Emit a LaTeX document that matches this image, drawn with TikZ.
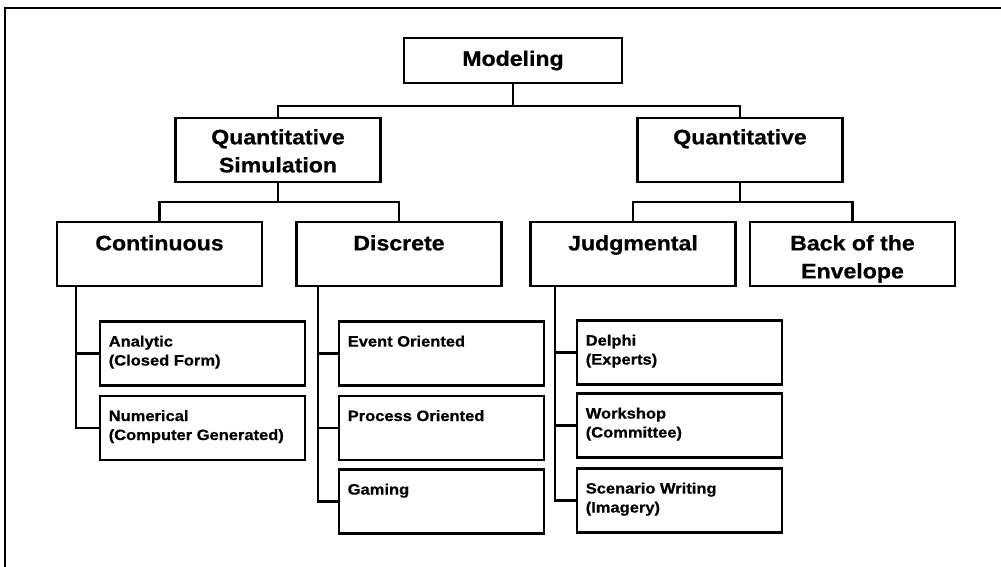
\documentclass[tikz,border=0pt]{standalone}
\usepackage{fontspec}
\newfontfamily\hv[FakeStretch=1.1, BoldFeatures={FakeBold=0.7}]{Liberation Sans}
\usetikzlibrary{calc}
\tikzset{
  box/.style={draw, rectangle, line width=2.9pt, inner sep=0pt},
  bigbox/.style={box, minimum width=205pt, minimum height=64pt},
  subbox/.style={box, minimum width=205pt, minimum height=64pt},
  bigtxt/.style={font=\hv\bfseries\fontsize{21}{28}\selectfont, align=center, inner sep=0pt, anchor=north},
  smalltxt/.style={font=\hv\bfseries\fontsize{15}{19}\selectfont, align=left, inner sep=0pt, anchor=north west},
  link/.style={line width=2.4pt},
  frame/.style={line width=1.5pt},
}
\begin{document}
\begin{tikzpicture}[x=1pt, y=-1pt]
\useasboundingbox (0,0) rectangle (1001,567);
\fill[white] (0,0) rectangle (1001,567);

% page frame (top and left edges)
\draw[frame] (5,567) -- (5,8) -- (1001,8);

% root
\node[box, minimum width=218pt, minimum height=45pt] (model) at (513,60.5) {};
\node[bigtxt, anchor=center] (modelt) at (model.center) {Modeling};

% first level
\node[bigbox] (qs) at (278,150) {};
\node[bigbox] (qn) at (740,150) {};
\node[bigtxt] (qst) at ($(qs.north)+(0,8)$) {\strut Quantitative\\\strut Simulation};
\node[bigtxt] (qnt) at ($(qn.north)+(0,8)$) {\strut Quantitative};

% second level
\node[bigbox] (cont) at (159.5,254) {};
\node[bigbox] (disc) at (399,254) {};
\node[bigbox] (judg) at (633,254) {};
\node[bigbox] (back) at (852.5,254) {};
\node[bigtxt] (contt) at ($(cont.north)+(0,10)$) {\strut Continuous};
\node[bigtxt] (disct) at ($(disc.north)+(0,10)$) {\strut Discrete};
\node[bigtxt] (judgt) at ($(judg.north)+(0,10)$) {\strut Judgmental};
\node[bigtxt] (backt) at ($(back.north)+(0,10)$) {\strut Back of the\\\strut Envelope};

% third level
\node[subbox] (anal) at (202.5,353.5) {};
\node[subbox] (numer) at (202.5,428) {};
\node[subbox] (event) at (441.5,353.5) {};
\node[subbox] (proc) at (441.5,428) {};
\node[subbox] (gaming) at (441.5,501.5) {};
\node[subbox] (delphi) at (679.5,352.5) {};
\node[subbox] (work) at (679.5,425.5) {};
\node[subbox] (scen) at (679.5,500.5) {};

\node[smalltxt] (analt) at ($(anal.north west)+(10,13)$) {\strut Analytic\\\strut (Closed Form)};
\node[smalltxt] (numert) at ($(numer.north west)+(10,13)$) {\strut Numerical\\\strut (Computer Generated)};
\node[smalltxt] (eventt) at ($(event.north west)+(10,13)$) {\strut Event Oriented};
\node[smalltxt] (proct) at ($(proc.north west)+(10,13)$) {\strut Process Oriented};
\node[smalltxt] (gamingt) at ($(gaming.north west)+(10,13)$) {\strut Gaming};
\node[smalltxt] (delphit) at ($(delphi.north west)+(10,13)$) {\strut Delphi\\\strut (Experts)};
\node[smalltxt] (workt) at ($(work.north west)+(10,13)$) {\strut Workshop\\\strut (Committee)};
\node[smalltxt] (scent) at ($(scen.north west)+(10,13)$) {\strut Scenario Writing\\\strut (Imagery)};

% bus lines and trunks
\coordinate (bus1) at (0,106);
\coordinate (bus2) at (0,202);
\coordinate (trunkA) at (76,0);
\coordinate (trunkB) at (318,0);
\coordinate (trunkC) at (555,0);

\draw[link] (model.south) -- (model.south |- bus1);
\draw[link] (qs.north) -- (qs.north |- bus1) -- (qn.north |- bus1) -- (qn.north);

\draw[link] (qs.south) -- (qs.south |- bus2);
\draw[link] (cont.north) -- (cont.north |- bus2) -- (disc.north |- bus2) -- (disc.north);
\draw[link] (qn.south) -- (qn.south |- bus2);
\draw[link] (judg.north) -- (judg.north |- bus2) -- (back.north |- bus2) -- (back.north);

\draw[link] (cont.south -| trunkA) |- (numer.west);
\draw[link] (trunkA |- anal.west) -- (anal.west);

\draw[link] (disc.south -| trunkB) |- (gaming.west);
\draw[link] (trunkB |- event.west) -- (event.west);
\draw[link] (trunkB |- proc.west) -- (proc.west);

\draw[link] (judg.south -| trunkC) |- (scen.west);
\draw[link] (trunkC |- delphi.west) -- (delphi.west);
\draw[link] (trunkC |- work.west) -- (work.west);
\end{tikzpicture}
\end{document}
